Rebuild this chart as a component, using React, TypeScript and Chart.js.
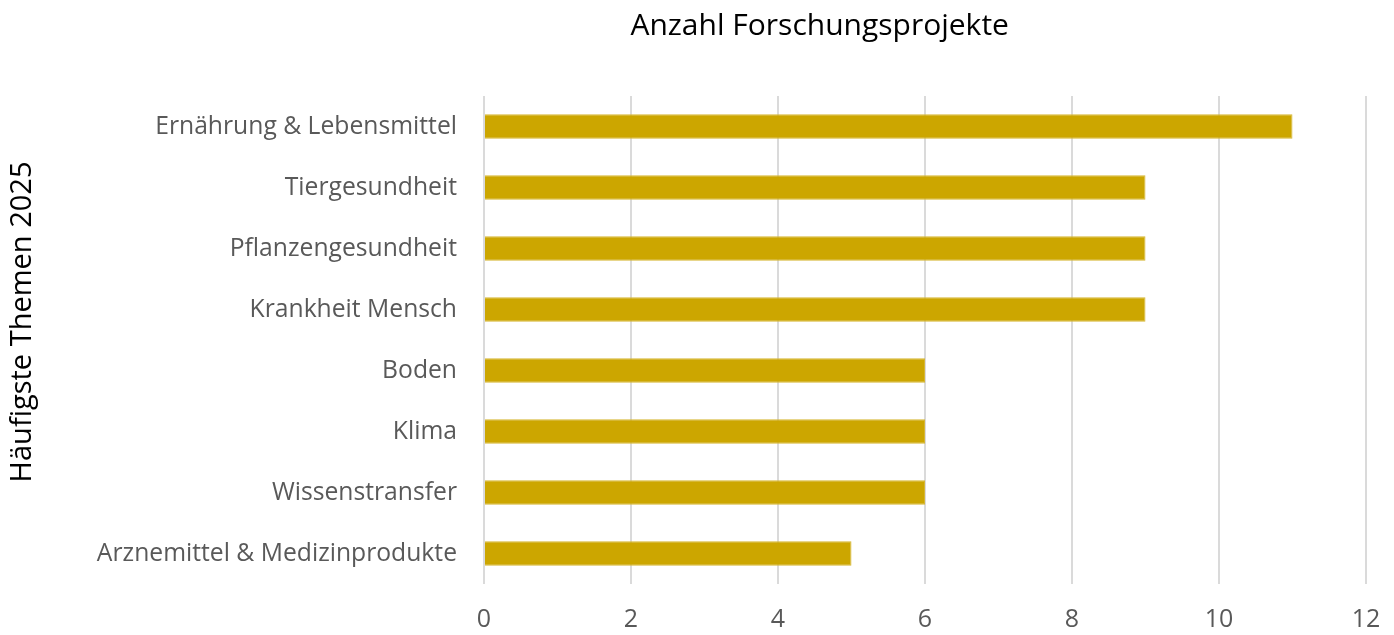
import React, { useEffect, useRef } from "react";
import { Chart, registerables } from "chart.js";

Chart.register(...registerables);

const categories = [
  "Ernährung & Lebensmittel",
  "Tiergesundheit",
  "Pflanzengesundheit",
  "Krankheit Mensch",
  "Boden",
  "Klima",
  "Wissenstransfer",
  "Arznemittel & Medizinprodukte",
];
const projectCounts = [11, 9, 9, 9, 6, 6, 6, 5];
const xTitle = "Anzahl Forschungsprojekte";
const yTitle = "Häufigste Themen 2025";
const xMin = 0;
const xMax = 12;
const xStep = 2;

const FONT = '"Open Sans", "Noto Sans", sans-serif';

const titlesPlugin = {
  id: "customTitles",
  afterDraw(chart: any) {
    const ctx = chart.ctx;
    ctx.save();
    ctx.fillStyle = "#000000";
    ctx.font = `30px ${FONT}`;
    ctx.textAlign = "center";
    ctx.textBaseline = "middle";
    ctx.fillText(xTitle, chart.width * 0.588, 26);
    ctx.font = `29px ${FONT}`;
    ctx.translate(23, chart.height * 0.507);
    ctx.rotate(-Math.PI / 2);
    ctx.fillText(yTitle, 0, 0);
    ctx.restore();
  },
};

export default function App() {
  const ref = useRef<HTMLCanvasElement | null>(null);

  useEffect(() => {
    if (!ref.current) return;
    const chart = new Chart(ref.current, {
      type: "bar",
      data: {
        labels: categories,
        datasets: [
          {
            label: xTitle,
            data: projectCounts,
            backgroundColor: "#CCA600",
            borderColor: "#D6B633",
            borderWidth: 1,
            barPercentage: 0.4,
            categoryPercentage: 1,
          },
        ],
      },
      options: {
        indexAxis: "y",
        animation: false,
        responsive: false,
        layout: { padding: { top: 96, right: 28, left: 0, bottom: 0 } },
        plugins: {
          legend: { display: false },
          tooltip: { enabled: false },
          title: { display: false },
        },
        scales: {
          x: {
            min: xMin,
            max: xMax,
            ticks: {
              stepSize: xStep,
              color: "#595959",
              font: { family: FONT, size: 25 },
              padding: 21,
            },
            grid: { color: "#dadada", lineWidth: 2, drawTicks: false },
            border: { display: false },
            afterFit: (s: any) => {
              s.height = 51;
              s.paddingLeft = 0;
              s.paddingRight = 0;
            },
          },
          y: {
            ticks: {
              color: "#595959",
              font: { family: FONT, size: 24.7 },
              padding: 27,
            },
            grid: { display: false, drawTicks: false },
            border: { display: false },
            afterFit: (s: any) => {
              s.width = 484;
              s.paddingTop = 0;
              s.paddingBottom = 0;
            },
          },
        },
      },
      plugins: [titlesPlugin],
    });
    return () => chart.destroy();
  }, []);

  return (
    <div style={{ position: "absolute", left: 0, top: 0, width: 1394, height: 635, background: "#fff" }}>
      <canvas ref={ref} width={1394} height={635} style={{ display: "block" }} />
    </div>
  );
}
